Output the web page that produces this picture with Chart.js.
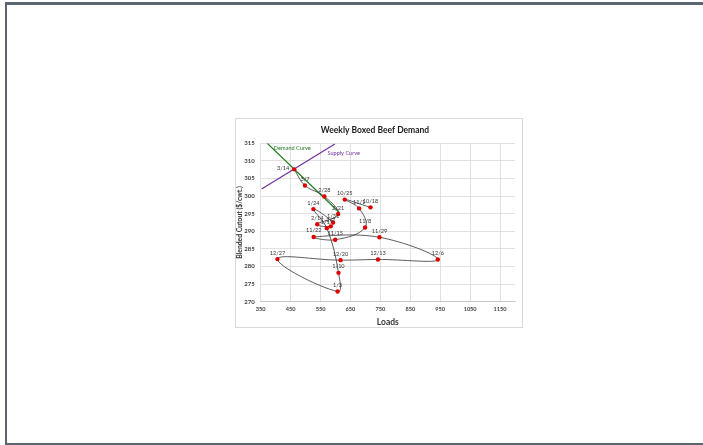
<!DOCTYPE html>
<html>
<head>
<meta charset="utf-8">
<script src="https://cdn.jsdelivr.net/npm/chart.js@4.4.1/dist/chart.umd.min.js"></script>
<style>
  html, body { margin: 0; padding: 0; background: #fff; width: 703px; height: 445px; overflow: hidden; }
  #frame { position: absolute; left: 5px; top: 2px; width: 720px; height: 438px;
           border-top: 3px solid #5b6670; border-left: 2px solid #5b6670; border-bottom: 2px solid #5b6670; }
  #card { position: absolute; left: 235px; top: 118px; width: 288px; height: 210px;
          border: 1px solid #d9d9d9; box-sizing: border-box; background: #fff; }
  #wrap { position: absolute; left: 235px; top: 118px; width: 288px; height: 210px; }
</style>
</head>
<body>
<div id="frame"></div>
<div id="card"></div>
<div id="wrap"><canvas id="chart" width="288" height="210"></canvas></div>
<script>
// Weekly observations: week label, loads sold, blended cutout ($/cwt.)
const weekLabels = ['10/18','10/25','11/1','11/8','11/15','11/22','11/29','12/6','12/13','12/20','12/27',
                    '1/3','1/10','1/17','1/24','1/31','2/7','2/14','2/21','2/28','3/7','3/14'];
const loads  = [717, 631, 679, 699, 599, 527, 747, 942, 742, 617, 406,
                607, 610, 571, 526, 592, 584, 539, 609, 563, 498, 462];
const cutout = [296.8, 299.0, 296.5, 291.1, 287.6, 288.4, 288.3, 282.0, 282.0, 281.8, 282.1,
                272.9, 278.2, 290.9, 296.3, 292.5, 291.4, 292.0, 294.9, 299.9, 303.0, 307.6];

// Reference curves through the latest week
const demandLoads  = [372, 612];
const demandCutout = [315.0, 295.4];
const supplyLoads  = [353, 598];
const supplyCutout = [302.0, 314.8];

// Axis ticks
const xTicks = [350, 450, 550, 650, 750, 850, 950, 1050, 1150];
const yTicks = [270, 275, 280, 285, 290, 295, 300, 305, 310, 315];

const toPoints = (xs, ys) => xs.map((x, i) => ({ x: x, y: ys[i] }));

const fontFamily = 'Lato, "Liberation Sans", sans-serif';
const labelFont = '5.6px ' + fontFamily;

const annotate = {
  id: 'annotate',
  afterDatasetsDraw(chart) {
    const ctx = chart.ctx;
    const xs = chart.scales.x, ys = chart.scales.y;
    ctx.save();
    ctx.font = labelFont;
    ctx.fillStyle = '#333333';
    const meta = chart.getDatasetMeta(0);
    meta.data.forEach((pt, i) => {
      const txt = weekLabels[i];
      if (txt === '3/14') {
        ctx.textAlign = 'right'; ctx.textBaseline = 'middle';
        ctx.fillText(txt, pt.x - 5, pt.y - 1);
      } else {
        ctx.textAlign = 'center'; ctx.textBaseline = 'bottom';
        ctx.fillText(txt, pt.x, pt.y - 3.5);
      }
    });
    ctx.textAlign = 'left'; ctx.textBaseline = 'middle';
    ctx.fillStyle = '#1e7b1e';
    ctx.fillText('Demand Curve', xs.getPixelForValue(394), ys.getPixelForValue(313.7));
    ctx.fillStyle = '#7030a0';
    ctx.fillText('Supply Curve', xs.getPixelForValue(573), ys.getPixelForValue(312.3));
    ctx.restore();
  }
};

new Chart(document.getElementById('chart'), {
  type: 'scatter',
  data: {
    datasets: [
      {
        label: 'Weekly',
        data: toPoints(loads, cutout),
        showLine: true,
        tension: 0.4,
        borderColor: '#333333',
        borderWidth: 0.8,
        pointRadius: 2.2,
        pointStyle: 'circle',
        pointBackgroundColor: '#e00000',
        pointBorderColor: '#e00000',
        pointBorderWidth: 0
      },
      {
        label: 'Demand Curve',
        data: toPoints(demandLoads, demandCutout),
        showLine: true,
        borderColor: '#1e7b1e',
        borderWidth: 1.2,
        pointRadius: 0
      },
      {
        label: 'Supply Curve',
        data: toPoints(supplyLoads, supplyCutout),
        showLine: true,
        borderColor: '#7030a0',
        borderWidth: 1.2,
        pointRadius: 0
      }
    ]
  },
  options: {
    responsive: false,
    animation: false,
    events: [],
    layout: { padding: { left: 0, right: 8, top: 0, bottom: 0 } },
    plugins: {
      legend: { display: false },
      tooltip: { enabled: false },
      title: {
        display: true,
        text: 'Weekly Boxed Beef Demand',
        color: '#1a1a1a',
        font: { family: fontFamily, size: 8.5, weight: 'bold' },
        padding: { top: 7, bottom: 8.1 }
      }
    },
    scales: {
      x: {
        type: 'linear',
        min: 350, max: 1200,
        afterBuildTicks: s => { s.ticks = xTicks.map(v => ({ value: v })); },
        afterFit: s => { s.height = 26.3; },
        grid: { color: '#d9d9d9', lineWidth: 0.8, drawTicks: false },
        border: { display: true, color: '#bfbfbf', width: 0.8 },
        ticks: { color: '#404040', padding: 4.5, maxRotation: 0,
                 callback: v => String(v),
                 font: { family: fontFamily, size: 5.6, weight: 'bold' } },
        title: { display: true, text: 'Loads', color: '#333333',
                 font: { family: fontFamily, size: 8.5, weight: 'bold' },
                 padding: { top: 0, bottom: 0.6 } }
      },
      y: {
        type: 'linear',
        min: 270, max: 315,
        afterBuildTicks: s => { s.ticks = yTicks.map(v => ({ value: v })); },
        afterFit: s => { s.width = 25.7; },
        grid: { color: '#d9d9d9', lineWidth: 0.8, drawTicks: false },
        border: { display: false },
        ticks: { color: '#404040', padding: 6,
                 callback: v => String(v),
                 font: { family: fontFamily, size: 6, weight: 'bold' } },
        title: { display: true, text: 'Blended Cutout ($/cwt.)', color: '#333333',
                 font: { family: fontFamily, size: 6.8, weight: 'bold' },
                 padding: { top: 1.1, bottom: 0 } }
      }
    }
  },
  plugins: [annotate]
});
</script>
</body>
</html>
